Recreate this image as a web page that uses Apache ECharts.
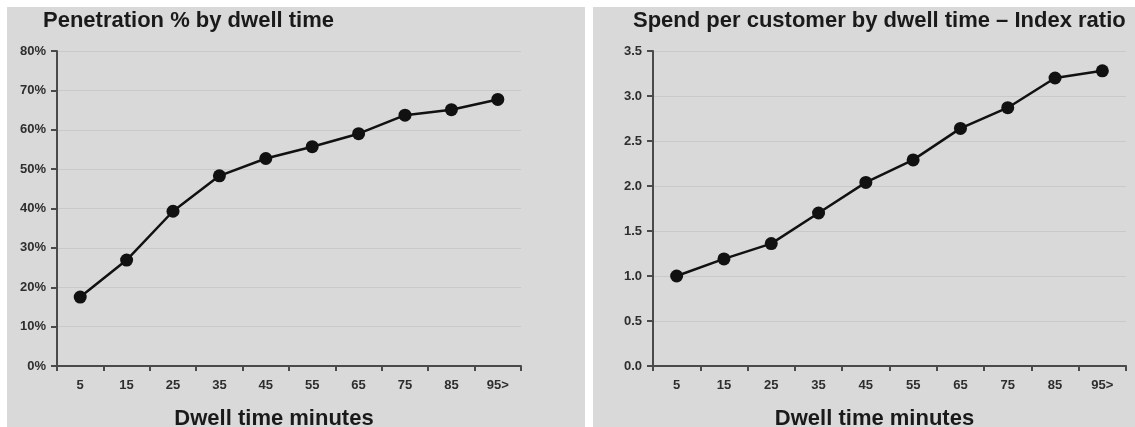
<!DOCTYPE html>
<html>
<head>
<meta charset="utf-8">
<title>Dwell time charts</title>
<script src="https://cdn.jsdelivr.net/npm/echarts@6/dist/echarts.min.js"></script>
<style>
  html, body { margin: 0; padding: 0; background: #ffffff; }
  #chart { width: 1135px; height: 427px; }
</style>
</head>
<body>
<div id="chart"></div>
<script>
// Dwell time buckets (minutes)
const categories = ['5', '15', '25', '35', '45', '55', '65', '75', '85', '95>'];

// Penetration % by dwell time
const penetration = [17.5, 26.9, 39.3, 48.3, 52.7, 55.7, 59.0, 63.7, 65.1, 67.7];

// Spend per customer index ratio by dwell time
const spendIndex = [1.00, 1.19, 1.36, 1.70, 2.04, 2.29, 2.64, 2.87, 3.20, 3.28];

const leftTitle = 'Penetration % by dwell time';
const rightTitle = 'Spend per customer by dwell time \u2013 Index ratio';
const xName = 'Dwell time minutes';

const FONT = 'Liberation Sans, Arial, sans-serif';
const panelBg = '#d9d9d9';
const axisColor = '#4a4a4a';
const labelColor = '#2e2e2e';

function xAxisFor(gridIndex) {
  return {
    type: 'category',
    gridIndex: gridIndex,
    data: categories,
    boundaryGap: true,
    axisLine: { show: true, lineStyle: { color: axisColor, width: 2 } },
    axisTick: { show: true, alignWithLabel: false, length: 5, lineStyle: { color: axisColor, width: 2 } },
    axisLabel: { color: labelColor, fontFamily: FONT, fontWeight: 'bold', fontSize: 13, margin: 13 },
    splitLine: { show: false },
    name: xName,
    nameLocation: 'middle',
    nameGap: 42,
    nameTextStyle: { color: '#1a1a1a', fontFamily: FONT, fontWeight: 'bold', fontSize: 22, padding: [0, 30, 0, 0] }
  };
}

function yAxisFor(gridIndex, max, interval, fmt) {
  return {
    type: 'value',
    gridIndex: gridIndex,
    min: 0,
    max: max,
    interval: interval,
    axisLine: { show: true, lineStyle: { color: axisColor, width: 2 } },
    axisTick: { show: true, length: 6, lineStyle: { color: axisColor, width: 2 } },
    axisLabel: { color: labelColor, fontFamily: FONT, fontWeight: 'bold', fontSize: 13, margin: 11, formatter: fmt },
    splitLine: { show: true, lineStyle: { color: '#c9c9c9', width: 1 } }
  };
}

function lineSeries(xi, yi, data) {
  return {
    type: 'line',
    xAxisIndex: xi,
    yAxisIndex: yi,
    data: data,
    symbol: 'circle',
    symbolSize: 13,
    itemStyle: { color: '#111111' },
    lineStyle: { color: '#111111', width: 2.5 },
    animation: false
  };
}

const chart = echarts.init(document.getElementById('chart'), null, { renderer: 'canvas' });

chart.setOption({
  backgroundColor: '#ffffff',
  animation: false,
  graphic: [
    { type: 'rect', z: -10, shape: { x: 7, y: 7, width: 578, height: 420 }, style: { fill: panelBg } },
    { type: 'rect', z: -10, shape: { x: 593, y: 7, width: 542, height: 420 }, style: { fill: panelBg } }
  ],
  title: [
    { text: leftTitle, left: 43, top: 10, padding: 0,
      textStyle: { color: '#1a1a1a', fontFamily: FONT, fontWeight: 'bold', fontSize: 22 } },
    { text: rightTitle, left: 633, top: 10, padding: 0,
      textStyle: { color: '#1a1a1a', fontFamily: FONT, fontWeight: 'bold', fontSize: 22 } }
  ],
  grid: [
    { left: 57, right: 614, top: 51, bottom: 61, containLabel: false, outerBoundsMode: 'none' },
    { left: 653, right: 9, top: 51, bottom: 61, containLabel: false, outerBoundsMode: 'none' }
  ],
  xAxis: [xAxisFor(0), xAxisFor(1)],
  yAxis: [
    yAxisFor(0, 80, 10, '{value}%'),
    yAxisFor(1, 3.5, 0.5, function (v) { return v.toFixed(1); })
  ],
  series: [
    lineSeries(0, 0, penetration),
    lineSeries(1, 1, spendIndex)
  ]
});
</script>
</body>
</html>
